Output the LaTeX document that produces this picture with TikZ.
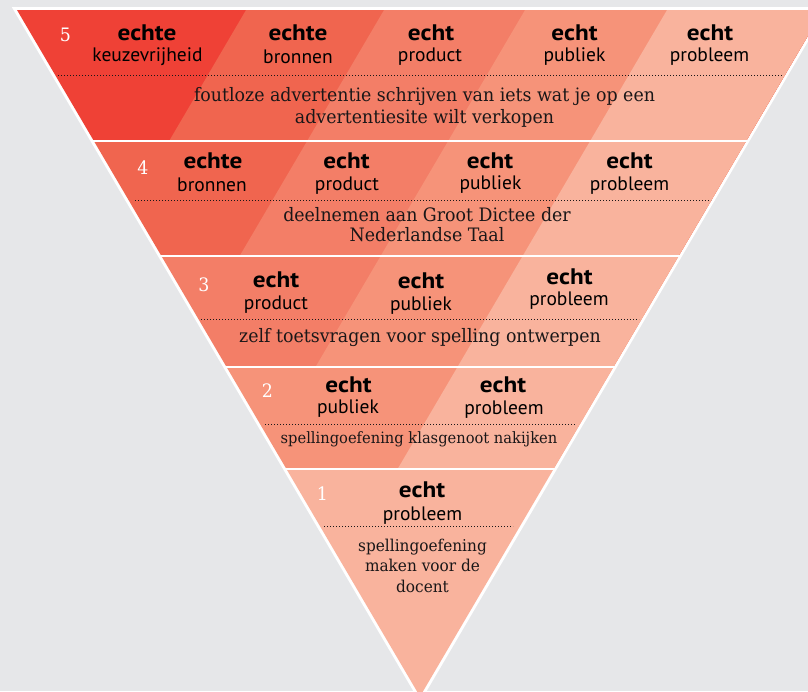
\documentclass[tikz,border=0pt]{standalone}
\usepackage{fontspec}
\newfontfamily\sansfam{PT Sans}
\newfontfamily\kwfam[FakeStretch=1.12]{PT Sans}
\newfontfamily\seriffam[FakeStretch=0.94]{DejaVu Serif}
\definecolor{bg}{HTML}{E6E7E9}
\definecolor{cfive}{HTML}{EF4136}
\definecolor{cfour}{HTML}{F0654F}
\definecolor{cthree}{HTML}{F37E67}
\definecolor{ctwo}{HTML}{F69379}
\definecolor{cone}{HTML}{F9B39D}
\definecolor{ink}{HTML}{1A1718}
\tikzset{
  kw/.style={font=\kwfam\bfseries\fontsize{22.5}{22.5}\selectfont, anchor=base, text=black, inner sep=0pt},
  sub/.style={font=\sansfam\fontsize{19.5}{19.5}\selectfont, anchor=base, text=black, inner sep=0pt},
  desc/.style={font=\seriffam\fontsize{18.5}{18.5}\selectfont, anchor=base, text=ink, inner sep=0pt},
  descsmall/.style={desc, font=\seriffam\fontsize{15.6}{15.6}\selectfont},
  descmid/.style={desc, font=\seriffam\fontsize{16.3}{16.3}\selectfont},
  num/.style={font=\seriffam\fontsize{18.5}{18.5}\selectfont, text=white, inner sep=0pt, anchor=center},
  dotline/.style={draw=ink, line width=0.9pt, dash pattern=on 0.9pt off 2.1pt},
}
\begin{document}
\begin{tikzpicture}[x=1pt,y=-1pt]
\useasboundingbox (0,0) rectangle (808,691);
\fill[bg] (0,0) rectangle (808,691);
% white rim around the inverted triangle
\path[draw=white, fill=white, line width=6pt, line join=miter]
  (17,10) -- (823,10) -- (420,696.5) -- cycle;
% coloured bands; diagonal stripes run parallel to the right edge
\begin{scope}
  \clip (17,10) -- (823,10) -- (420,696.5) -- cycle;
  % level 5
  \begin{scope}
    \clip (0,10) rectangle (900,139);
    \fill[cfive] (0,0) rectangle (900,700);
    \fill[cfour]  (251.9,0) -- (-159,700) -- (900,700) -- (900,0) -- cycle;
    \fill[cthree] (389.9,0) -- (-21,700) -- (900,700) -- (900,0) -- cycle;
    \fill[ctwo]   (530.9,0) -- (120,700) -- (900,700) -- (900,0) -- cycle;
    \fill[cone]   (672.9,0) -- (262,700) -- (900,700) -- (900,0) -- cycle;
  \end{scope}
  % level 4
  \begin{scope}
    \clip (0,142) rectangle (900,254.5);
    \fill[cfour] (0,0) rectangle (900,700);
    \fill[cthree] (389.9,0) -- (-21,700) -- (900,700) -- (900,0) -- cycle;
    \fill[ctwo]   (530.9,0) -- (120,700) -- (900,700) -- (900,0) -- cycle;
    \fill[cone]   (672.9,0) -- (262,700) -- (900,700) -- (900,0) -- cycle;
  \end{scope}
  % level 3
  \begin{scope}
    \clip (0,257.5) rectangle (900,365);
    \fill[cthree] (0,0) rectangle (900,700);
    \fill[ctwo]   (530.9,0) -- (120,700) -- (900,700) -- (900,0) -- cycle;
    \fill[cone]   (672.9,0) -- (262,700) -- (900,700) -- (900,0) -- cycle;
  \end{scope}
  % level 2
  \begin{scope}
    \clip (0,368) rectangle (900,467);
    \fill[ctwo] (0,0) rectangle (900,700);
    \fill[cone]   (672.9,0) -- (262,700) -- (900,700) -- (900,0) -- cycle;
  \end{scope}
  % level 1
  \fill[cone] (0,470) rectangle (900,700);
\end{scope}

% level 5
\node[num] (n5) at (65.5,35) {5};
\node[kw]  (k5a) at (147,40) {echte};
\node[sub] (s5a) at (147.5,61.5) {keuzevrijheid};
\node[kw]  (k5b) at (298,40.5) {echte};
\node[sub] (s5b) at (298,63) {bronnen};
\node[kw]  (k5c) at (431,40) {echt};
\node[sub] (s5c) at (430,61.5) {product};
\node[kw]  (k5d) at (574.5,40) {echt};
\node[sub] (s5d) at (574.5,61.5) {publiek};
\node[kw]  (k5e) at (710,40) {echt};
\node[sub] (s5e) at (709.5,61.5) {probleem};
\draw[dotline] (58,75) -- (782,75);
\node[desc] (d5a) at (424.5,101) {foutloze advertentie schrijven van iets wat je op een};
\node[desc] (d5b) at (424.5,123) {advertentiesite wilt verkopen};

% level 4
\node[num] (n4) at (143,167.5) {4};
\node[kw]  (k4a) at (213,168) {echte};
\node[sub] (s4a) at (212,191.5) {bronnen};
\node[kw]  (k4b) at (346.5,168) {echt};
\node[sub] (s4b) at (347,190) {product};
\node[kw]  (k4c) at (490,168) {echt};
\node[sub] (s4c) at (490.5,189.5) {publiek};
\node[kw]  (k4d) at (629.5,168) {echt};
\node[sub] (s4d) at (629.5,190) {probleem};
\draw[dotline] (135,200) -- (711,200);
\node[desc] (d4a) at (427,221.7) {deelnemen aan Groot Dictee der};
\node[desc] (d4b) at (427,241.7) {Nederlandse Taal};

% level 3
\node[num] (n3) at (204,285) {3};
\node[kw]  (k3a) at (276,287) {echt};
\node[sub] (s3a) at (276,309.5) {product};
\node[kw]  (k3b) at (421,288) {echt};
\node[sub] (s3b) at (421,310) {publiek};
\node[kw]  (k3c) at (569.5,284) {echt};
\node[sub] (s3c) at (569,305) {probleem};
\draw[dotline] (201,319) -- (639,319);
\node[desc] (d3a) at (420,342) {zelf toetsvragen voor spelling ontwerpen};

% level 2
\node[num] (n2) at (267.5,391) {2};
\node[kw]  (k2a) at (348.5,392) {echt};
\node[sub] (s2a) at (348,413.5) {publiek};
\node[kw]  (k2b) at (503,392.5) {echt};
\node[sub] (s2b) at (504,414) {probleem};
\draw[dotline] (265,424) -- (575,424);
\node[descsmall] (d2a) at (419,443.5) {spellingoefening klasgenoot nakijken};

% level 1
\node[num] (n1) at (322.5,494) {1};
\node[kw]  (k1a) at (422,497) {echt};
\node[sub] (s1a) at (422.5,520) {probleem};
\draw[dotline] (324,526.7) -- (513,526.7);
\node[descmid] (d1a) at (422.5,551.7) {spellingoefening};
\node[descmid] (d1b) at (422.5,571.7) {maken voor de};
\node[descmid] (d1c) at (422.5,592.7) {docent};
\end{tikzpicture}
\end{document}
